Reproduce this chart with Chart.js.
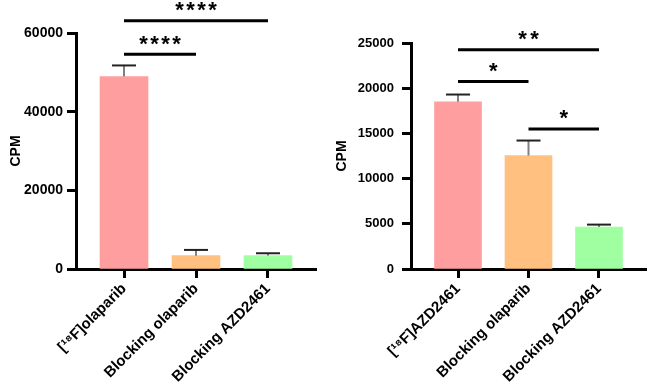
<!DOCTYPE html>
<html><head><meta charset="utf-8">
<script src="https://cdn.jsdelivr.net/npm/chart.js@4/dist/chart.umd.min.js"></script>
<style>
html,body{margin:0;padding:0;background:#fff;}
#wrap{position:relative;width:649px;height:387px;overflow:hidden;background:#fff;}
#c1{position:absolute;left:0;top:0;}
#c2{position:absolute;left:330px;top:0;}
</style></head>
<body><div id="wrap"><canvas id="c1" width="330" height="387"></canvas><canvas id="c2" width="319" height="387"></canvas></div>
<script>
// ---- data ----
const leftCategories = ['[¹⁸F]olaparib', 'Blocking olaparib', 'Blocking AZD2461'];
const leftMeans = [48950, 3400, 3400];
const leftSD = [2800, 1450, 600];
const leftYTicks = [0, 20000, 40000, 60000];
const leftSigPairs = [[0, 1], [0, 2]];
const leftSigLabels = ['****', '****'];
const leftSigLevels = [54600, 63100];

const rightCategories = ['[¹⁸F]AZD2461', 'Blocking olaparib', 'Blocking AZD2461'];
const rightMeans = [18500, 12550, 4650];
const rightSD = [800, 1660, 260];
const rightYTicks = [0, 5000, 10000, 15000, 20000, 25000];
const rightSigPairs = [[0, 1], [0, 2], [1, 2]];
const rightSigLabels = ['*', '**', '*'];
const rightSigLevels = [20750, 24250, 15500];

const barColors = ['#FF9E9E', '#FFC080', '#A0FFA0'];
const FAMILY = '"Liberation Sans", Arial, sans-serif';

const annotPlugin = {
  id: 'annot',
  afterDatasetsDraw(chart, args, opts) {
    const ctx = chart.ctx, xs = chart.scales.x, ys = chart.scales.y;
    ctx.save();
    opts.means.forEach((m, i) => {
      const x = xs.getPixelForValue(i);
      const yb = ys.getPixelForValue(m);
      const yt = ys.getPixelForValue(m + opts.sd[i]);
      ctx.lineWidth = 2;
      ctx.strokeStyle = '#808080';
      ctx.beginPath(); ctx.moveTo(x, yb); ctx.lineTo(x, yt); ctx.stroke();
      ctx.strokeStyle = '#222';
      ctx.beginPath(); ctx.moveTo(x - opts.capHalf, yt); ctx.lineTo(x + opts.capHalf, yt); ctx.stroke();
    });
    ctx.font = 'bold ' + opts.starSize + 'px ' + FAMILY;
    const mt = ctx.measureText('*');
    opts.pairs.forEach((p, k) => {
      const x1 = xs.getPixelForValue(p[0]), x2 = xs.getPixelForValue(p[1]);
      const y = ys.getPixelForValue(opts.levels[k]);
      ctx.strokeStyle = '#000'; ctx.lineWidth = 3;
      ctx.beginPath(); ctx.moveTo(x1, y); ctx.lineTo(x2, y); ctx.stroke();
      const lab = opts.labels[k], n = lab.length, cx = (x1 + x2) / 2;
      const cy = y - opts.starGap;
      const baseline = cy - (mt.actualBoundingBoxDescent - mt.actualBoundingBoxAscent) / 2;
      ctx.textAlign = 'center'; ctx.textBaseline = 'alphabetic'; ctx.fillStyle = '#000';
      for (let j = 0; j < n; j++) {
        ctx.fillText('*', cx + (j - (n - 1) / 2) * opts.starSpacing, baseline);
      }
    });
    ctx.restore();
  }
};

function makeChart(canvas, c) {
  const axisGrid = { display: true, offset: false, drawOnChartArea: false, drawTicks: true, tickLength: 9, tickWidth: 3, tickColor: '#000', color: '#000' };
  const axisBorder = { display: true, color: '#000', width: 3 };
  return new Chart(canvas, {
    type: 'bar',
    data: {
      datasets: [{
        data: c.means.map((v, i) => ({ x: i, y: v })),
        backgroundColor: barColors,
        borderWidth: 0,
        barThickness: c.barW
      }]
    },
    options: {
      responsive: false,
      animation: false,
      layout: { padding: c.pad },
      plugins: {
        legend: { display: false },
        tooltip: { enabled: false },
        annot: { means: c.means, sd: c.sd, pairs: c.pairs, labels: c.sigLabels, levels: c.levels,
                 capHalf: 12, starSize: 22, starSpacing: c.starSpacing, starGap: 14 }
      },
      scales: {
        x: {
          type: 'linear', bounds: 'data', offset: false, min: -0.667, max: 2.667,
          afterBuildTicks: s => { s.ticks = c.cats.map((_, i) => ({ value: i })); },
          afterFit: s => { s.height = c.xh; },
          ticks: { autoSkip: false, maxRotation: 45, minRotation: 45, color: '#000', padding: 2,
                   font: { family: FAMILY, size: 15, weight: 'bold' }, callback: v => c.cats[v] },
          grid: axisGrid,
          border: axisBorder
        },
        y: {
          type: 'linear', bounds: 'data', min: 0, max: c.yticks[c.yticks.length - 1],
          afterBuildTicks: s => { s.ticks = c.yticks.map(v => ({ value: v })); },
          afterFit: s => { s.width = c.yw; },
          ticks: { color: '#000', padding: c.ypad, font: { family: FAMILY, size: c.yfs, weight: 'bold' },
                   callback: v => String(v) },
          grid: axisGrid,
          border: axisBorder,
          title: { display: true, text: 'CPM', color: '#000', font: { family: FAMILY, size: 14, weight: 'bold' },
                   padding: { top: c.tpad, bottom: 0 } }
        }
      }
    },
    plugins: [annotPlugin]
  });
}

makeChart(document.getElementById('c1'), {
  cats: leftCategories, means: leftMeans, sd: leftSD, yticks: leftYTicks,
  pairs: leftSigPairs, sigLabels: leftSigLabels, levels: leftSigLevels,
  pad: { left: 4, right: 14, top: 33, bottom: 0 }, yw: 72, xh: 118, ypad: 4, yfs: 14, tpad: 4,
  barW: 48, starSpacing: 11
});
makeChart(document.getElementById('c2'), {
  cats: rightCategories, means: rightMeans, sd: rightSD, yticks: rightYTicks,
  pairs: rightSigPairs, sigLabels: rightSigLabels, levels: rightSigLevels,
  pad: { left: 2, right: 3, top: 43, bottom: 0 }, yw: 79, xh: 118, ypad: 8, yfs: 13, tpad: 2,
  barW: 47, starSpacing: 12
});
</script>
</body></html>
